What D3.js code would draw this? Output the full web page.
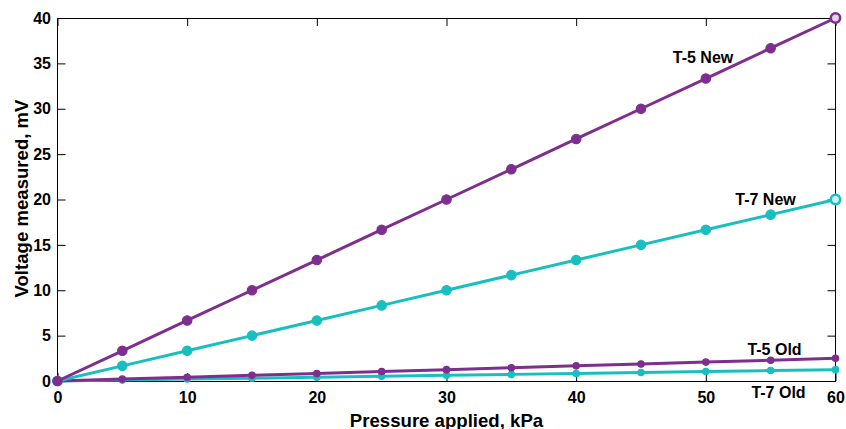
<!DOCTYPE html>
<html>
<head>
<meta charset="utf-8">
<script src="https://cdn.jsdelivr.net/npm/d3@7"></script>
<style>
  body { margin: 0; background: #fff; }
  svg { display: block; font-family: "Liberation Sans", Arial, sans-serif; font-weight: bold; }
</style>
</head>
<body>
<svg id="chart" width="846" height="429"></svg>
<script>
'use strict'

const pressure = [0, 5, 10, 15, 20, 25, 30, 35, 40, 45, 50, 55, 60]
const t5New = [0, 3.33, 6.67, 10, 13.33, 16.67, 20, 23.33, 26.67, 30, 33.33, 36.67, 40]
const t7New = [0, 1.67, 3.33, 5, 6.67, 8.33, 10, 11.67, 13.33, 15, 16.67, 18.33, 20]
const t5Old = [0, 0.21, 0.42, 0.63, 0.83, 1.04, 1.25, 1.46, 1.67, 1.88, 2.08, 2.29, 2.5]
const t7Old = [0, 0.1, 0.21, 0.31, 0.42, 0.52, 0.63, 0.73, 0.83, 0.94, 1.04, 1.15, 1.25]
const xTicks = [0, 10, 20, 30, 40, 50, 60]
const yTicks = [0, 5, 10, 15, 20, 25, 30, 35, 40]

const purple = '#7e2f8e'
const teal = '#19bfbf'

const series = [
  // old series first so the bigger markers sit on top
  { name: 'T-7 Old', values: t7Old, color: teal, r: 3.2, label: [778.5, 397.5] },
  { name: 'T-5 Old', values: t5Old, color: purple, r: 3.2, label: [774.5, 355] },
  { name: 'T-7 New', values: t7New, color: teal, r: 4.7, label: [765.5, 205] },
  { name: 'T-5 New', values: t5New, color: purple, r: 4.7, label: [703, 62.5] }
]
const ringFill = { [purple]: '#e6d3ea', [teal]: '#c9f0f0' }

const margin = { top: 18, right: 10.5, bottom: 48, left: 57.5 }
const svg = d3.select('#chart')
const width = +svg.attr('width') - margin.left - margin.right
const height = +svg.attr('height') - margin.top - margin.bottom

const x = d3.scaleLinear().domain([0, 60]).range([0, width])
const y = d3.scaleLinear().domain([0, 40]).range([height, 0])

const g = svg.append('g').attr('transform', `translate(${margin.left},${margin.top})`)

// axes, MATLAB style: ticks point inward, box all round
const tickLen = 8
const styleAxis = sel => {
  sel.select('.domain').remove()
  sel.selectAll('line').attr('stroke', '#000').attr('stroke-width', 1)
  sel.selectAll('text').attr('fill', '#000').style('font-size', '16px').style('font-weight', 'bold')
}

g.append('g')
  .attr('transform', `translate(0,${height})`)
  .call(d3.axisBottom(x).tickValues(xTicks).tickSize(-tickLen).tickPadding(11))
  .call(styleAxis)

g.append('g')
  .call(d3.axisLeft(y).tickValues(yTicks).tickSize(-tickLen).tickPadding(6.5))
  .call(styleAxis)

g.append('g')
  .call(d3.axisTop(x).tickValues(xTicks).tickSize(-tickLen).tickFormat(''))
  .call(styleAxis)

g.append('g')
  .attr('transform', `translate(${width},0)`)
  .call(d3.axisRight(y).tickValues(yTicks).tickSize(-tickLen).tickFormat(''))
  .call(styleAxis)

g.append('rect')
  .attr('width', width)
  .attr('height', height)
  .attr('fill', 'none')
  .attr('stroke', '#000')
  .attr('stroke-width', 1)
  .attr('shape-rendering', 'crispEdges')

const line = d3.line()
  .x((d, i) => x(pressure[i]))
  .y(d => y(d))

series.forEach(s => {
  g.append('path')
    .datum(s.values)
    .attr('d', line)
    .attr('fill', 'none')
    .attr('stroke', s.color)
    .attr('stroke-width', 3)
    .attr('stroke-linejoin', 'round')

  const last = s.values.length - 1
  g.append('g')
    .selectAll('circle')
    .data(s.values)
    .join('circle')
    .attr('cx', (d, i) => x(pressure[i]))
    .attr('cy', d => y(d))
    .attr('r', s.r)
    // the new series end on a ring at the right edge
    .attr('fill', (d, i) => (s.r > 4 && i === last) ? ringFill[s.color] : s.color)
    .attr('stroke', s.color)
    .attr('stroke-width', (d, i) => (s.r > 4 && i === last) ? 2.5 : 1.2)
})

series.forEach(s => {
  svg.append('text')
    .attr('x', s.label[0])
    .attr('y', s.label[1])
    .attr('text-anchor', 'middle')
    .style('font-size', '16px')
    .text(s.name)
})

svg.append('text')
  .attr('x', margin.left + width / 2)
  .attr('y', 427)
  .attr('text-anchor', 'middle')
  .style('font-size', '18.6px')
  .text('Pressure applied, kPa')

svg.append('text')
  .attr('transform', `translate(28,${margin.top + height / 2 - 1}) rotate(-90)`)
  .attr('text-anchor', 'middle')
  .style('font-size', '18.6px')
  .text('Voltage measured, mV')
</script>
</body>
</html>
